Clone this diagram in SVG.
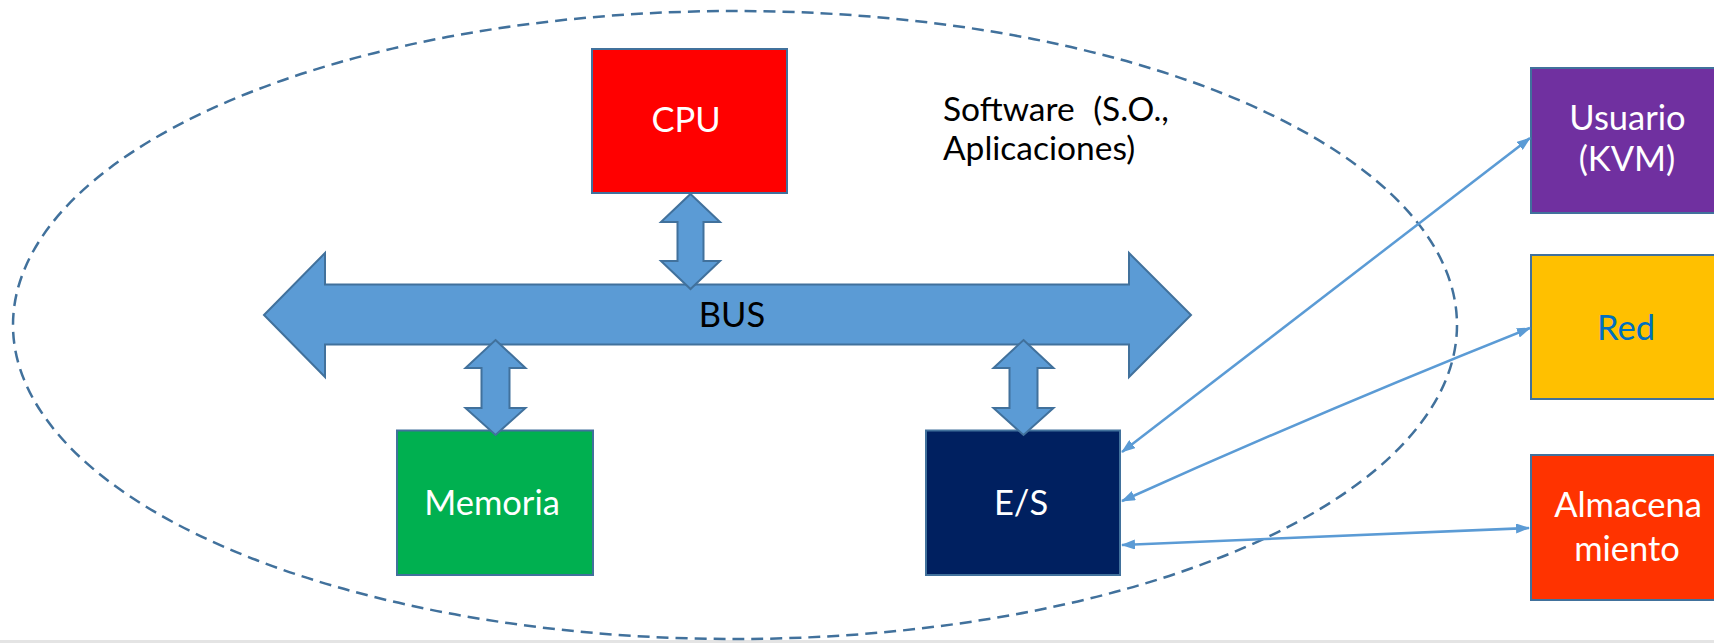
<svg xmlns="http://www.w3.org/2000/svg" width="1714" height="643" viewBox="0 0 1714 643">
<style>
.box{stroke:#41719C;stroke-width:2}
.blk{fill:#5B9BD5;stroke:#41719C;stroke-width:2;stroke-linejoin:miter}
.t{font-family:Lato,"Liberation Sans",sans-serif;font-size:34.5px;text-anchor:middle}
.w{fill:#FFFFFF}
.con{fill:none;stroke:#5B9BD5;stroke-width:2.5;marker-start:url(#ah);marker-end:url(#ah)}
</style>
<defs>
<marker id="ah" viewBox="0 0 14 10" refX="13" refY="5" markerWidth="14" markerHeight="10" markerUnits="userSpaceOnUse" orient="auto-start-reverse">
<path d="M0,0 L14,5 L0,10 z" fill="#5B9BD5"/>
</marker>
</defs>
<rect x="0" y="0" width="1714" height="643" fill="#FFFFFF"/>
<rect x="0" y="640" width="1714" height="3" fill="#E4E4E4"/>
<g id="software">
<ellipse cx="735" cy="325" rx="722" ry="314" fill="none" stroke="#41719C" stroke-width="2.5" stroke-dasharray="12 7"/>
<text class="t" style="text-anchor:start;font-size:33.5px" fill="#000000"><tspan x="943" y="121" word-spacing="10">Software (S.O.,</tspan><tspan x="943" y="160">Aplicaciones)</tspan></text>
</g>
<g id="bus">
<polygon class="blk" points="264,315 325,253 325,284.5 1129,284.5 1129,253 1191,315 1129,377 1129,344.5 325,344.5 325,377"/>
<text class="t" x="732" y="327" fill="#000000">BUS</text>
</g>
<g id="cpu">
<rect class="box" x="592" y="49" width="195" height="144" fill="#FF0000"/>
<text class="t w" x="686" y="132">CPU</text>
</g>
<g id="memoria">
<rect class="box" x="397" y="430.5" width="196" height="144.5" fill="#00B050"/>
<text class="t w" x="492" y="515">Memoria</text>
</g>
<g id="es">
<rect class="box" x="926" y="430.5" width="194" height="144.5" fill="#002060"/>
<text class="t w" x="1021" y="515">E/S</text>
</g>
<g id="usuario">
<rect class="box" x="1531" y="68" width="196" height="145" fill="#7030A0"/>
<text class="t w" x="1627.5" y="130">Usuario</text>
<text class="t w" x="1627" y="170.5">(KVM)</text>
</g>
<g id="red">
<rect class="box" x="1531" y="255" width="196" height="144" fill="#FFC000"/>
<text class="t" x="1626" y="340" fill="#0070C0">Red</text>
</g>
<g id="almacenamiento">
<rect class="box" x="1531" y="455" width="196" height="145" fill="#FF3300"/>
<text class="t w" x="1628" y="517">Almacena</text>
<text class="t w" x="1627" y="561">miento</text>
</g>
<g id="connectors">
<polygon class="blk" points="690.5,194 720,222 703.5,222 703.5,261 720,261 690.5,289 661,261 677.5,261 677.5,222 661,222"/>
<polygon class="blk" points="495.5,340 525.5,368 509.5,368 509.5,408 525.5,408 495.5,435 465.5,408 481.5,408 481.5,368 465.5,368"/>
<polygon class="blk" points="1023.5,340 1053.5,368 1037.5,368 1037.5,408 1053.5,408 1023.5,435 993.5,408 1009.5,408 1009.5,368 993.5,368"/>
<path class="con" d="M1122,452 L1530,138"/>
<path class="con" d="M1122,501 Q1322,411 1530,328"/>
<path class="con" d="M1122,545 L1529,528"/>
</g>
</svg>
